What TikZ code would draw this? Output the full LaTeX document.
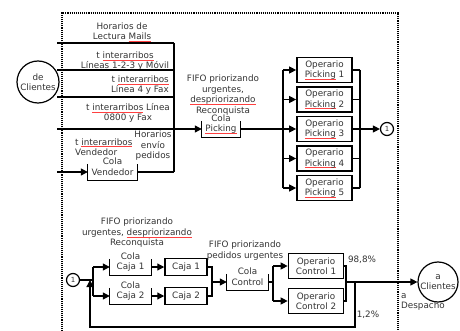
\documentclass[tikz,border=0pt]{standalone}
\usepackage{fontspec}
\setmainfont{DejaVu Sans}
\usepackage{xcolor}
\usetikzlibrary{arrows.meta,positioning,calc}

% red spell-check underline
\newlength{\sqlen}
\newcommand{\sq}[1]{\settowidth{\sqlen}{#1}\rlap{\textcolor{red!75}{\rule[-2pt]{\sqlen}{0.6pt}}}#1}

\tikzset{
  flow/.style={line width=1.2pt},
  arr/.style={flow,-{Triangle[length=7pt,width=7pt]}},
  opbox/.style={draw,line width=1.7pt,minimum width=55pt,minimum height=25pt,inner sep=0pt,align=center},
  cajabox/.style={draw,line width=1.5pt,minimum width=42pt,minimum height=17pt,inner sep=0pt},
  qnode/.style={inner sep=0pt,minimum height=16pt},
  txt/.style={align=center,inner sep=0pt},
  srcnode/.style={draw,circle,line width=1.2pt,align=center,inner sep=0pt},
  smallc/.style={srcnode,minimum size=13pt,font=\fontsize{7}{8}\selectfont},
}

\begin{document}
\begin{tikzpicture}[x=1pt,y=-1pt,font=\fontsize{8.8}{10.5}\selectfont,text=black!80]
        \useasboundingbox (0,0) rectangle (460,331);

        % frame
        \draw [line width=1.1pt, densely dotted] (62,331) -- (62,13) -- (398,13) -- (398,331);

        % arrivals
        \node [srcnode, minimum size=42pt] (cli0) at (38,82) {de\\Clientes};
        \node [txt] (hdr) at (122,32) {Horarios de\\Lectura \sq{Mails}};
        \node [txt] (r1) at (125,61) {t \sq{interarribos}\\Líneas 1-2-3 y Móvil};
        \node [txt, align=right, anchor=east] (r2) at (169,85) {t \sq{interarribos}\\Línea 4 y Fax};
        \node [txt] (r3) at (128,113) {t \sq{interarribos} Línea\\0800 y Fax};
        \node [txt, align=left, anchor=west] (r4) at (75,147) {t \sq{interarribos}\\Vendedor};
        \node [txt] (r5) at (153,146) {Horarios\\envío\\pedidos};
        \foreach \y in {43,70,97} \draw [flow] (57,\y) -- (174,\y);
        \draw [flow] (174,43) -- (174,172);

        % Cola Vendedor
        \node [qnode, minimum width=49pt] (qv) at (112.5,172) {Vendedor};
        \node [txt] (qvl) at (112.5,161) {Cola};
        \draw [flow] (qv.north west) -- (qv.south west) -- (qv.south east) -- (qv.north east);
        \draw [arr] (57,172) -- (qv.west);
        \draw [flow] (qv.east) -- (174,172);

        % Cola Picking
        \node [txt] (fifo1) at (223,95) {FIFO priorizando\\urgentes,\\\sq{despriorizando}\\Reconquista};
        \node [qnode, minimum width=38pt] (qp) at (221,129) {\sq{Picking}};
        \node [txt] (qpl) at (221,118) {Cola};
        \draw [flow] (qp.north west) -- (qp.south west) -- (qp.south east) -- (qp.north east);
        \draw [arr] (57,129) -- (qp.west);
        \draw [flow] (qp.east) -- (283,129);

        % Operarios Picking
        \draw [flow] (283,70) -- (283,188);
        \draw [flow] (360,70) -- (360,188);
        \foreach \i/\y in {1/70,2/99.5,3/129,4/158.5,5/188} {
            \node [opbox] (op\i) at (324.5,\y) {Operario\\\sq{Picking} \i};
            \draw [arr] (283,\y) -- (op\i.west);
            \draw [flow] (op\i.east) -- (360,\y);
        }
        \node [smallc] (one) at (387,129) {1};
        \draw [arr] (360,129) -- (one.west);

        % Cajas
        \node [txt] (fifo2) at (137,233) {FIFO priorizando\\urgentes, \sq{despriorizando}\\Reconquista};
        \node [smallc] (oneb) at (73,280) {1};
        \draw [flow] (oneb.east) -- (93,280);
        \draw [flow] (93,267) -- (93,296);
        \foreach \i/\y in {1/267,2/296} {
            \node [qnode, minimum width=41pt] (qc\i) at (130.5,\y) {Caja \i};
            \node [txt] (qcl\i) at (130.5,\y-11) {Cola};
            \draw [flow] (qc\i.north west) -- (qc\i.south west) -- (qc\i.south east) -- (qc\i.north east);
            \node [cajabox] (cj\i) at (186,\y) {Caja \i};
            \draw [arr] (93,\y) -- (qc\i.west);
            \draw [arr] (qc\i.east) -- (cj\i.west);
        }
        \draw [flow] (cj1.east) -- (212,267) -- (212,296) -- (cj2.east);

        % Cola Control
        \node [txt] (fifo3) at (245,250.5) {FIFO priorizando\\pedidos urgentes};
        \node [qnode, minimum width=41pt] (qct) at (247.5,282) {Control};
        \node [txt] (qctl) at (247.5,271) {Cola};
        \draw [flow] (qct.north west) -- (qct.south west) -- (qct.south east) -- (qct.north east);
        \draw [arr] (212,282) -- (qct.west);
        \draw [flow] (qct.east) -- (273,282);

        % Operarios Control
        \draw [flow] (273,266) -- (273,301);
        \node [opbox] (oc1) at (316,266) {Operario\\Control 1};
        \node [opbox] (oc2) at (316,301) {Operario\\Control 2};
        \draw [arr] (273,266) -- (oc1.west);
        \draw [arr] (273,301) -- (oc2.west);
        \draw [flow] (oc1.east) -- (346,266) -- (346,301) -- (oc2.east);

        % salida
        \node [srcnode, minimum size=40pt] (cli1) at (438,282) {a\\Clientes};
        \draw [arr] (346,282) -- (cli1.west);
        \draw [arr] (355,282) -- (355,327) -- (90,327) -- (90,280);
        \node (p988) at (362,260) {98,8\%};
        \node (p12) at (368,315) {1,2\%};
        \node [txt, align=left, anchor=west] (desp) at (401,302) {a\\Despacho};
\end{tikzpicture}
\end{document}
